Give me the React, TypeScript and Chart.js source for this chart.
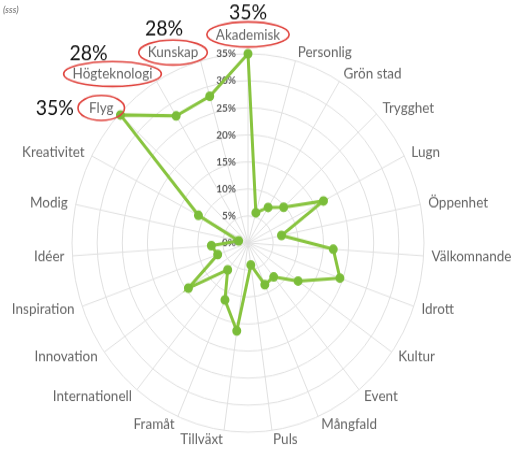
import React, { useEffect, useRef } from "react";
import { Chart, registerables } from "chart.js";

Chart.register(...registerables);

const categories = [
  "Akademisk", "Personlig", "Grön stad", "Trygghet", "Lugn", "Öppenhet",
  "Välkomnande", "Idrott", "Kultur", "Event", "Mångfald", "Puls", "Tillväxt",
  "Framåt", "Internationell", "Innovation", "Inspiration", "Idéer", "Modig",
  "Kreativitet", "Flyg", "Högteknologi", "Kunskap",
];
const values = [
  35, 5.8, 7.7, 9.7, 16.9, 6.8, 17, 19.4, 12.2, 8.1, 8.4, 4.1, 16.4, 11.5,
  6.4, 14.5, 6.4, 7.3, 1.9, 11.1, 34.7, 27.5, 28.2,
];
const tickValues = [0, 5, 10, 15, 20, 25, 30, 35];
const annotatedCategories = ["Akademisk", "Kunskap", "Högteknologi", "Flyg"];
const annotationTexts = ["35%", "28%", "28%", "35%"];
const unitNote = "(sss)";

const GREEN = "#88c43f";
const POINT_GREEN = "#7bbd3a";
const LABEL_FONT = "Lato, 'Open Sans', sans-serif";
const STRETCH = 1.075;

// Excel-like placement of the category labels around the radar
const labelPlugin = {
  id: "excelPointLabels",
  afterDraw(chart: any) {
    const s = chart.scales.r;
    const ctx = chart.ctx;
    ctx.save();
    ctx.font = `13.5px ${LABEL_FONT}`;
    ctx.fillStyle = "#666";
    const boxes: any[] = [];
    categories.forEach((name, i) => {
      const top = i === 0;
      const p = s.getPointPosition(i, s.drawingArea + (top ? 11 : 8));
      const ang = (i / categories.length) * Math.PI * 2;
      const sn = Math.sin(ang);
      const w = ctx.measureText(name).width;
      let left: number;
      if (Math.abs(sn) < 0.05) {
        ctx.textAlign = "center";
        left = p.x - w / 2;
      } else if (sn > 0) {
        ctx.textAlign = "left";
        left = p.x;
      } else {
        ctx.textAlign = "right";
        left = p.x - w;
      }
      ctx.textBaseline = top ? "bottom" : "middle";
      ctx.fillText(name, p.x, p.y);
      const cy = top ? p.y - 7 : p.y;
      boxes[i] = { left, right: left + w, cy };
    });

    // red ellipses and black percentage notes
    annotatedCategories.forEach((name, k) => {
      const b = boxes[categories.indexOf(name)];
      if (!b) return;
      const cx = (b.left + b.right) / 2;
      const rx = (b.right - b.left) / 2 + (name === "Flyg" ? 11 : 9);
      const ry = 11.6;
      ctx.beginPath();
      ctx.ellipse(cx, b.cy, rx, ry, 0, 0, Math.PI * 2);
      ctx.strokeStyle = "#e0453f";
      ctx.lineWidth = 1.6;
      ctx.stroke();

      ctx.font = `19.5px ${LABEL_FONT}`;
      ctx.fillStyle = "#111";
      ctx.textBaseline = "alphabetic";
      if (name === "Flyg") {
        ctx.textAlign = "right";
        ctx.fillText(annotationTexts[k], cx - rx - 4, b.cy + 7);
      } else {
        ctx.textAlign = "center";
        const shift = name === "Akademisk" ? 0 : name === "Kunskap" ? -9 : -24;
        const lift = name === "Kunskap" ? 4 : name === "Akademisk" ? 2 : 1;
        ctx.fillText(annotationTexts[k], cx + shift, b.cy - ry - lift);
      }
    });
    ctx.restore();
  },
};

const tickPlugin = {
  id: "leftTicks",
  beforeDatasetsDraw(chart: any) {
    const s = chart.scales.r;
    const ctx = chart.ctx;
    ctx.save();
    ctx.font = `bold 10px ${LABEL_FONT}`;
    ctx.fillStyle = "#5a5a5a";
    ctx.textAlign = "right";
    ctx.textBaseline = "middle";
    tickValues.forEach((v) => {
      const d = s.getDistanceFromCenterForValue(v);
      ctx.fillText(v + "%", s.xCenter - 12, s.yCenter - d);
    });
    ctx.restore();
  },
};

export default function App() {
  const ref = useRef<HTMLCanvasElement>(null);
  useEffect(() => {
    if (!ref.current) return;
    const chart = new Chart(ref.current, {
      type: "radar",
      data: {
        labels: categories,
        datasets: [
          {
            data: values,
            borderColor: GREEN,
            backgroundColor: GREEN,
            borderWidth: 3,
            fill: false,
            pointRadius: 3,
            pointBackgroundColor: POINT_GREEN,
            pointBorderColor: POINT_GREEN,
            tension: 0,
          },
        ],
      },
      options: {
        animation: false,
        responsive: true,
        maintainAspectRatio: false,
        layout: { padding: { top: 50, left: 72, right: 90, bottom: 22 } },
        plugins: { legend: { display: false }, tooltip: { enabled: false } },
        scales: {
          r: {
            min: 0,
            max: 35,
            ticks: { stepSize: 5, display: false },
            grid: { circular: true, color: "#e0e0e0", lineWidth: 1 },
            angleLines: { color: "#e0e0e0", lineWidth: 1 },
            pointLabels: { display: false },
          },
        },
      },
      plugins: [tickPlugin, labelPlugin],
    });
    return () => chart.destroy();
  }, []);
  return (
    <div style={{ position: "fixed", left: 0, top: 0, width: 515, height: 449, overflow: "hidden", background: "#fff" }}>
      <div
        style={{
          position: "absolute",
          left: 3,
          top: 4,
          font: `italic bold 9px ${LABEL_FONT}`,
          color: "#8a8a8a",
          zIndex: 2,
        }}
      >
        {unitNote}
      </div>
      <div
        style={{
          position: "absolute",
          left: 0,
          top: 0,
          width: 515,
          height: 425,
          transform: `scaleY(${STRETCH})`,
          transformOrigin: "0 0",
        }}
      >
        <canvas ref={ref} />
      </div>
    </div>
  );
}
